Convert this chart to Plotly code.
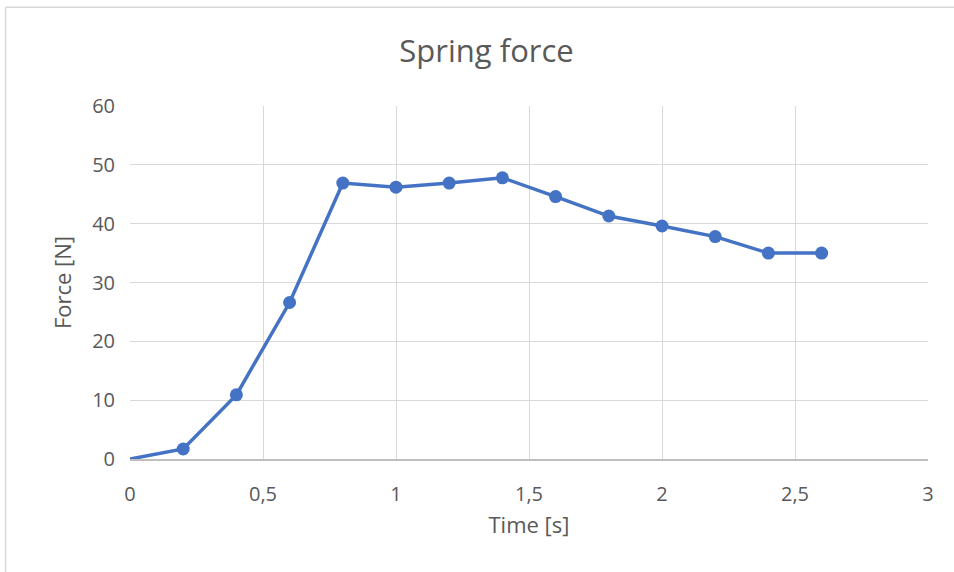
import plotly.graph_objects as go

time_s = [0, 0.2, 0.4, 0.6, 0.8, 1.0, 1.2, 1.4, 1.6, 1.8, 2.0, 2.2, 2.4, 2.6]
force_n = [0, 1.7, 10.9, 26.6, 46.9, 46.2, 46.9, 47.8, 44.6, 41.3, 39.6, 37.8, 35.0, 35.0]
marker_sizes = [0] + [13] * (len(time_s) - 1)

x_ticks = [0, 0.5, 1, 1.5, 2, 2.5, 3]
x_labels = ["0", "0,5", "1", "1,5", "2", "2,5", "3"]
y_ticks = [0, 10, 20, 30, 40, 50, 60]

blue = "#4472C4"
text_col = "#595959"
grid_col = "#d9d9d9"
font_family = "Open Sans, Noto Sans, sans-serif"

fig = go.Figure()
fig.add_trace(go.Scatter(
    x=time_s, y=force_n, mode="lines+markers",
    line=dict(color=blue, width=3.5),
    marker=dict(color=blue, size=marker_sizes, opacity=1, line=dict(width=0)),
    showlegend=False,
))

fig.update_layout(
    width=954, height=572,
    margin=dict(l=130, r=26, t=106, b=113),
    paper_bgcolor="white", plot_bgcolor="white",
    font=dict(family=font_family, color=text_col),
    title=dict(text="Spring force", x=0.51, xref="container", xanchor="center",
               y=0.91, yref="container", yanchor="middle",
               font=dict(size=31, color=text_col, family=font_family)),
    xaxis=dict(range=[0, 3], tickvals=x_ticks, ticktext=x_labels,
               showgrid=True, gridcolor=grid_col, gridwidth=1,
               showline=True, linecolor="#bfbfbf", linewidth=1.5,
               zeroline=False, ticks="", ticklabelstandoff=16,
               tickfont=dict(size=20, color=text_col),
               title=dict(text="Time [s]", font=dict(size=22, color=text_col), standoff=12)),
    yaxis=dict(range=[0, 60], tickvals=y_ticks,
               showgrid=True, gridcolor=grid_col, gridwidth=1,
               showline=False, zeroline=False, ticks="", ticklabelstandoff=14,
               tickfont=dict(size=20, color=text_col),
               title=dict(text="Force [N]", font=dict(size=22, color=text_col), standoff=14)),
    shapes=[
        dict(type="line", xref="paper", yref="paper", x0=-0.156, x1=1.04, y0=1.28, y1=1.28,
             line=dict(color="#d9d9d9", width=1.5)),
        dict(type="line", xref="paper", yref="paper", x0=-0.156, x1=-0.156, y0=1.28, y1=-0.33,
             line=dict(color="#d9d9d9", width=1.5)),
    ],
)

fig.write_html("out.html")
